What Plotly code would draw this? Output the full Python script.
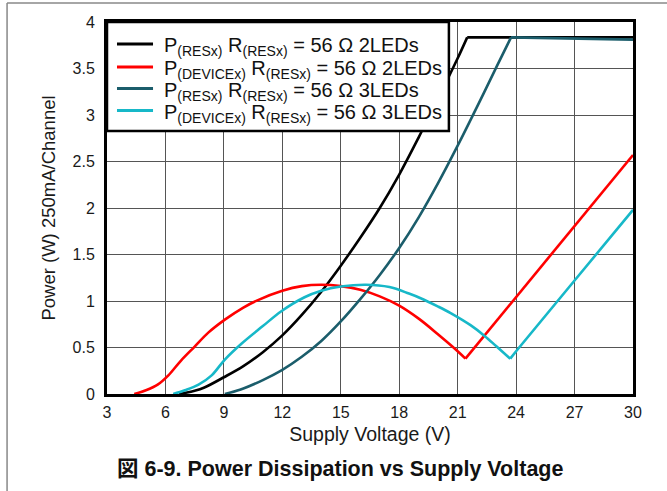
import plotly.graph_objects as go

# ---- data ----
v_black = [6.7, 7.5, 8.0, 9.0, 10.0, 11.0, 12.0, 13.0, 14.0, 15.0, 16.0, 17.0, 18.0, 19.0, 20.0, 21.0, 21.49, 24.0, 27.0, 30.0]
p_black = [0.0, 0.035, 0.07, 0.18, 0.30, 0.45, 0.63, 0.85, 1.10, 1.38, 1.68, 2.00, 2.36, 2.76, 3.18, 3.61, 3.835, 3.835, 3.835, 3.835]
k_black = 16  # index of the knee (start of flat part)

v_red = [4.4, 5.0, 5.6, 6.15, 6.8, 7.5, 8.2, 9.05, 10.0, 10.75, 12.0, 13.0, 14.0, 15.0, 16.0, 17.0, 18.0, 19.0, 20.0, 21.0, 21.4, 24.0, 27.0, 30.0]
p_red = [0.0, 0.04, 0.10, 0.20, 0.36, 0.51, 0.66, 0.80, 0.93, 1.01, 1.11, 1.16, 1.175, 1.16, 1.12, 1.05, 0.95, 0.81, 0.64, 0.46, 0.38, 1.04, 1.81, 2.57]
k_red = 20

v_teal = [9.05, 10.0, 11.0, 12.0, 13.0, 14.0, 15.0, 16.0, 17.0, 18.0, 19.0, 20.0, 21.0, 22.0, 23.0, 23.74, 25.0, 27.0, 30.0]
p_teal = [0.0, 0.06, 0.15, 0.26, 0.40, 0.57, 0.78, 1.02, 1.28, 1.57, 1.90, 2.27, 2.67, 3.09, 3.52, 3.835, 3.83, 3.825, 3.81]
k_teal = 15

v_cyan = [6.4, 7.0, 7.7, 8.37, 9.05, 9.9, 11.0, 11.95, 13.14, 14.0, 15.0, 16.3, 17.5, 18.5, 19.1, 20.0, 20.64, 21.66, 22.35, 23.0, 23.7, 24.0, 27.0, 30.0]
p_cyan = [0.0, 0.04, 0.10, 0.20, 0.37, 0.54, 0.73, 0.89, 1.04, 1.11, 1.155, 1.175, 1.15, 1.08, 1.03, 0.94, 0.87, 0.74, 0.63, 0.51, 0.38, 0.46, 1.22, 1.98]
k_cyan = 20

names = [
    "P<sub>(RESx)</sub> R<sub>(RESx)</sub> = 56 Ω 2LEDs",
    "P<sub>(DEVICEx)</sub> R<sub>(RESx)</sub> = 56 Ω 2LEDs",
    "P<sub>(RESx)</sub> R<sub>(RESx)</sub> = 56 Ω 3LEDs",
    "P<sub>(DEVICEx)</sub> R<sub>(RESx)</sub> = 56 Ω 3LEDs",
]
colors = ["#000000", "#ff0000", "#1b5d6b", "#17b8c8"]

x_ticks = [3, 6, 9, 12, 15, 18, 21, 24, 27, 30]
y_ticks = [0, 0.5, 1, 1.5, 2, 2.5, 3, 3.5, 4]
y_ticktext = ["0", "0.5", "1", "1.5", "2", "2.5", "3", "3.5", "4"]

FONT = "Liberation Sans, Arial, Noto Sans CJK JP, sans-serif"

fig = go.Figure()
series = [(v_black, p_black, k_black), (v_red, p_red, k_red),
          (v_teal, p_teal, k_teal), (v_cyan, p_cyan, k_cyan)]
for (xs, ys, k), nm, c in zip(series, names, colors):
    # curved part
    fig.add_trace(go.Scatter(x=xs[:k + 1], y=ys[:k + 1], mode="lines", name=nm, showlegend=False,
                             line=dict(color=c, width=2.6, shape="spline", smoothing=1.0)))
    # straight part after the knee
    fig.add_trace(go.Scatter(x=xs[k:], y=ys[k:], mode="lines", name=nm, showlegend=False,
                             line=dict(color=c, width=2.6)))

fig.update_layout(
    width=667, height=491,
    margin=dict(l=107, r=34, t=22, b=97),
    paper_bgcolor="white", plot_bgcolor="white",
    font=dict(family=FONT, color="#1a1a1a", size=16),
    showlegend=False,
)
fig.update_xaxes(range=[3, 30], tickvals=x_ticks, showgrid=True, gridcolor="#555555", gridwidth=1.3,
                 showline=True, mirror=True, linecolor="black", linewidth=3,
                 ticks="outside", ticklen=2, tickcolor="rgba(0,0,0,0)",
                 zeroline=False,
                 title=dict(text="Supply Voltage (V)", standoff=8, font=dict(size=19.5)))
fig.update_yaxes(range=[0, 4], tickvals=y_ticks, ticktext=y_ticktext, showgrid=True, gridcolor="#555555", gridwidth=1.3,
                 showline=True, mirror=True, linecolor="black", linewidth=3,
                 ticks="outside", ticklen=6, tickcolor="rgba(0,0,0,0)",
                 zeroline=False,
                 title=dict(text="Power (W) 250mA/Channel", standoff=13, font=dict(size=18.5)))

# ---- manual legend (layout only) ----
fig.add_shape(type="rect", xref="paper", yref="paper", x0=0, x1=0.650, y0=0.707, y1=1.0,
              fillcolor="white", line=dict(color="black", width=2.5), layer="above")
row_y = [0.941, 0.879, 0.821, 0.762]
for nm, c, yy in zip(names, colors, row_y):
    fig.add_shape(type="line", xref="paper", yref="paper", x0=0.019, x1=0.0875, y0=yy, y1=yy,
                  line=dict(color=c, width=3), layer="above")
    fig.add_annotation(text=nm, xref="paper", yref="paper", x=0.104, y=yy - 0.008,
                       xanchor="left", yanchor="middle", showarrow=False,
                       font=dict(size=20, color="#111"))

fig.add_annotation(text="<b>図 6-9. Power Dissipation vs Supply Voltage</b>",
                   xref="paper", yref="paper", x=0.443, y=-0.2016,
                   xanchor="center", yanchor="middle", showarrow=False,
                   font=dict(size=21.5, color="#111"))

# outer frame lines (table cell border)
fig.add_shape(type="line", xref="paper", yref="paper", x0=-0.19, x1=1.1, y0=1.051, y1=1.051,
              line=dict(color="#888888", width=1.5))
fig.add_shape(type="line", xref="paper", yref="paper", x0=-0.19, x1=-0.19, y0=1.051, y1=-0.27,
              line=dict(color="#888888", width=1.5))

fig.write_html("out.html")
